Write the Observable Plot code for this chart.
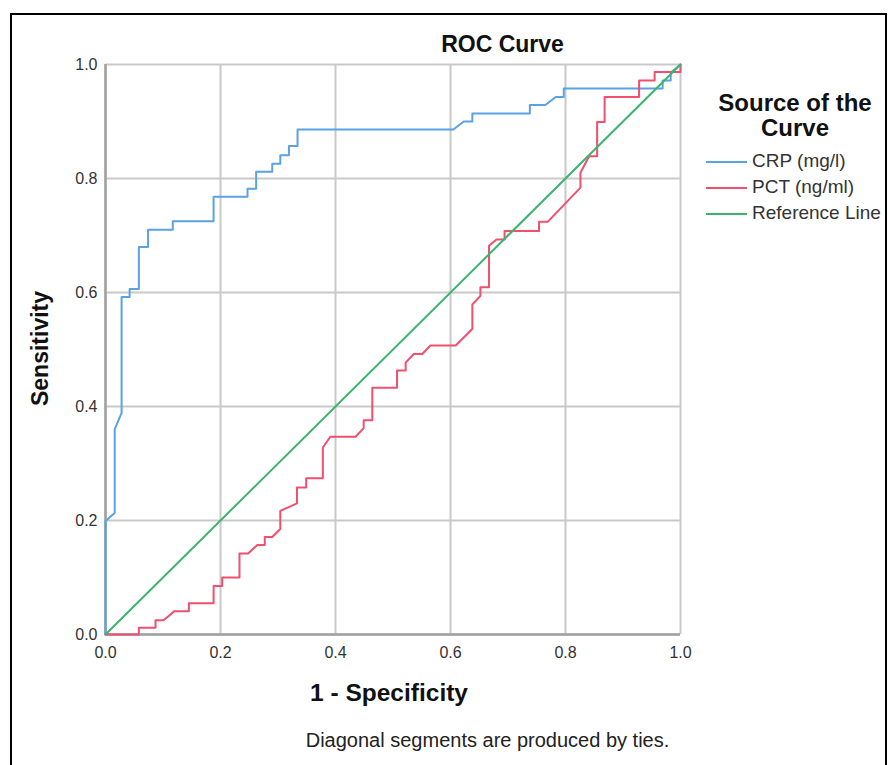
<!DOCTYPE html>
<html>
<head>
<meta charset="utf-8">
<script src="https://cdn.jsdelivr.net/npm/d3@7"></script>
<script src="https://cdn.jsdelivr.net/npm/@observablehq/plot@0.6"></script>
<style>
  html, body { margin: 0; padding: 0; background: #fff; }
  #wrap { position: relative; width: 888px; height: 765px; overflow: hidden; font-family: "Liberation Sans", Arial, sans-serif; }
  #border { position: absolute; left: 10px; top: 13px; width: 873px; height: 820px; border: 2px solid #000; pointer-events: none; }
  #legend { position: absolute; left: 700px; top: 90px; width: 190px; }
  #legend .ttl { font-weight: bold; font-size: 24px; text-align: center; width: 190px; line-height: 25px; color: #111; }
  #legend .item { position: relative; height: 26px; font-size: 19px; color: #333; }
  #legend .item span.sw { position: absolute; left: 6px; top: 11px; width: 41px; height: 2px; }
  #legend .item span.lb { position: absolute; left: 52px; top: 0px; white-space: nowrap; }
</style>
</head>
<body>
<div id="wrap">
  <div id="chart"></div>
  <div id="legend"></div>
  <div id="border"></div>
</div>
<script>
// ---- data ----
const seriesNames = ["CRP (mg/l)", "PCT (ng/ml)", "Reference Line"];
const seriesColors = ["#5aa2e2", "#f0506e", "#3db46d"];

const crpFpr = [0, 0, 0.016, 0.016, 0.028, 0.028, 0.042, 0.042, 0.058, 0.058, 0.074, 0.074, 0.117, 0.117, 0.188, 0.188, 0.247, 0.247, 0.262, 0.262, 0.29, 0.29, 0.304, 0.304, 0.319, 0.319, 0.334, 0.334, 0.605, 0.623, 0.638, 0.638, 0.738, 0.738, 0.765, 0.783, 0.797, 0.797, 0.969, 0.969, 0.983, 0.983, 1];
const crpTpr = [0, 0.199, 0.213, 0.36, 0.389, 0.592, 0.592, 0.606, 0.606, 0.68, 0.68, 0.71, 0.71, 0.725, 0.725, 0.768, 0.768, 0.782, 0.782, 0.812, 0.812, 0.826, 0.826, 0.841, 0.841, 0.857, 0.857, 0.886, 0.886, 0.9, 0.9, 0.914, 0.914, 0.929, 0.929, 0.943, 0.943, 0.958, 0.958, 0.972, 0.972, 0.986, 1];

const pctFpr = [0, 0.058, 0.058, 0.087, 0.087, 0.101, 0.12, 0.145, 0.145, 0.188, 0.188, 0.203, 0.203, 0.233, 0.233, 0.248, 0.264, 0.277, 0.277, 0.29, 0.304, 0.304, 0.333, 0.333, 0.349, 0.349, 0.378, 0.378, 0.391, 0.435, 0.449, 0.449, 0.464, 0.464, 0.507, 0.507, 0.522, 0.522, 0.536, 0.551, 0.565, 0.609, 0.638, 0.638, 0.652, 0.652, 0.667, 0.667, 0.68, 0.694, 0.694, 0.754, 0.754, 0.769, 0.826, 0.826, 0.841, 0.855, 0.855, 0.868, 0.868, 0.928, 0.928, 0.955, 0.955, 1, 1];
const pctTpr = [0, 0, 0.012, 0.012, 0.025, 0.025, 0.041, 0.041, 0.055, 0.055, 0.085, 0.085, 0.1, 0.1, 0.142, 0.142, 0.157, 0.157, 0.171, 0.171, 0.185, 0.217, 0.23, 0.258, 0.258, 0.274, 0.274, 0.328, 0.347, 0.347, 0.362, 0.376, 0.376, 0.433, 0.433, 0.463, 0.463, 0.477, 0.492, 0.492, 0.507, 0.507, 0.536, 0.579, 0.594, 0.609, 0.609, 0.682, 0.693, 0.693, 0.708, 0.708, 0.724, 0.724, 0.784, 0.81, 0.839, 0.839, 0.899, 0.899, 0.943, 0.943, 0.972, 0.972, 0.987, 0.987, 1];

const refFpr = [0, 1];
const refTpr = [0, 1];

const ticks = [0, 0.2, 0.4, 0.6, 0.8, 1.0];
const titleText = "ROC Curve";
const xLabel = "1 - Specificity";
const yLabel = "Sensitivity";
const captionText = "Diagonal segments are produced by ties.";
const legendTitle = ["Source of the", "Curve"];

// ---- build rows ----
const toRows = (xs, ys, name) => xs.map((x, i) => ({x, y: ys[i], series: name}));
const crp = toRows(crpFpr, crpTpr, seriesNames[0]);
const pct = toRows(pctFpr, pctTpr, seriesNames[1]);
const ref = toRows(refFpr, refTpr, seriesNames[2]);

const font = "Liberation Sans, Arial, sans-serif";
const fmt = d3.format(".1f");

const chart = Plot.plot({
  width: 888,
  height: 765,
  marginLeft: 105,
  marginRight: 208,
  marginTop: 64,
  marginBottom: 131,
  style: {fontFamily: font, background: "transparent"},
  x: {domain: [0, 1], label: null, axis: null},
  y: {domain: [0, 1], label: null, axis: null},
  marks: [
    Plot.gridX(ticks, {stroke: "#c9c9c9", strokeOpacity: 1, strokeWidth: 2}),
    Plot.gridY(ticks, {stroke: "#c9c9c9", strokeOpacity: 1, strokeWidth: 2}),
    Plot.ruleX([0], {stroke: "#a0a0a0", strokeWidth: 2.5}),
    Plot.ruleY([0], {stroke: "#a0a0a0", strokeWidth: 2.5}),
    Plot.text(ticks, {x: d => d, text: d => fmt(d), frameAnchor: "bottom", lineAnchor: "top", dy: 12, fontSize: 16, fill: "#333"}),
    Plot.text(ticks, {y: d => d, text: d => fmt(d), frameAnchor: "left", textAnchor: "end", lineAnchor: "middle", dx: -8, fontSize: 16, fill: "#333"}),
    Plot.line(crp, {x: "x", y: "y", stroke: seriesColors[0], strokeWidth: 2, curve: "linear"}),
    Plot.line(pct, {x: "x", y: "y", stroke: seriesColors[1], strokeWidth: 2, curve: "linear"}),
    Plot.line(ref, {x: "x", y: "y", stroke: seriesColors[2], strokeWidth: 2}),
    Plot.text([titleText], {frameAnchor: "top", lineAnchor: "middle", dx: 109.5, dy: -20, fontSize: 23, fontWeight: "bold", fill: "#111"}),
    Plot.text([xLabel], {frameAnchor: "bottom", lineAnchor: "middle", dx: -4, dy: 59, fontSize: 24.5, fontWeight: "bold", fill: "#111"}),
    Plot.text([captionText], {frameAnchor: "bottom", lineAnchor: "middle", dx: 94.5, dy: 106, fontSize: 20, fill: "#222"}),
    Plot.text([yLabel], {frameAnchor: "left", rotate: -90, lineAnchor: "middle", textAnchor: "middle", dx: -65, dy: -1, fontSize: 23, fontWeight: "bold", fill: "#111"})
  ]
});
document.getElementById("chart").appendChild(chart);

// ---- legend ----
const lg = document.getElementById("legend");
legendTitle.forEach(t => {
  const d = document.createElement("div");
  d.className = "ttl";
  d.textContent = t;
  lg.appendChild(d);
});
const gap = document.createElement("div");
gap.style.height = "10px";
lg.appendChild(gap);
seriesNames.forEach((n, i) => {
  const it = document.createElement("div");
  it.className = "item";
  const sw = document.createElement("span");
  sw.className = "sw";
  sw.style.background = seriesColors[i];
  const lb = document.createElement("span");
  lb.className = "lb";
  lb.textContent = n;
  it.appendChild(sw);
  it.appendChild(lb);
  lg.appendChild(it);
});
</script>
</body>
</html>
